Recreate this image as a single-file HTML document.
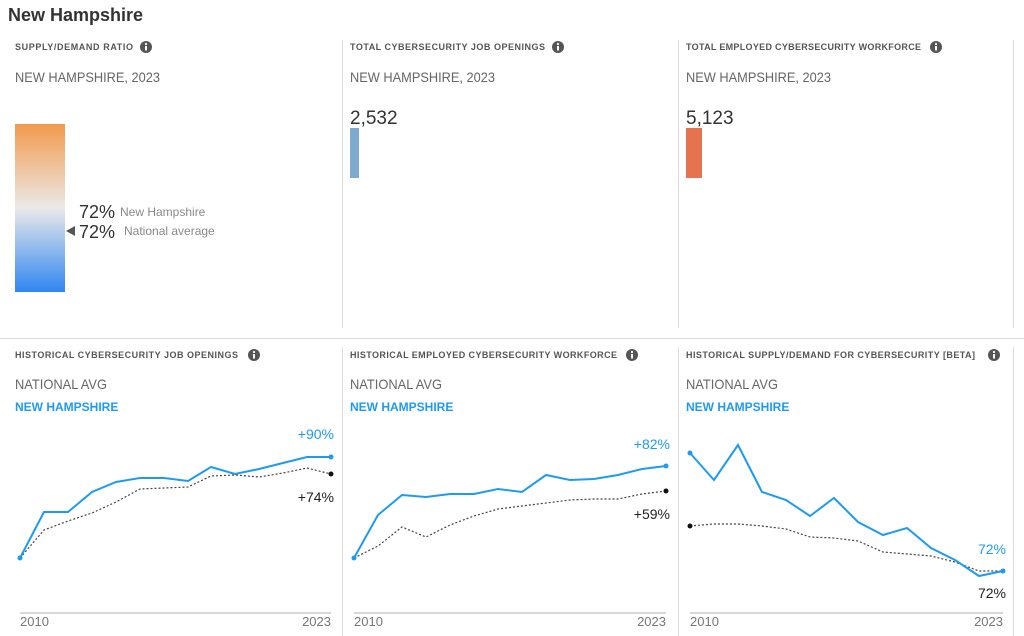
<!DOCTYPE html>
<html><head><meta charset="utf-8"><style>
html,body{margin:0;padding:0;background:#fff;width:1024px;height:636px;overflow:hidden}
svg{display:block;font-family:"Liberation Sans",sans-serif}
.h{font-size:9px;font-weight:bold;fill:#555}
.s{font-size:14px;fill:#666}
.nh{font-size:12px;font-weight:bold;fill:#1e9bf0}
.ax{font-size:13px;fill:#777}
</style></head><body>
<svg width="1024" height="636" viewBox="0 0 1024 636">
<defs>
<linearGradient id="g" x1="0" y1="0" x2="0" y2="1">
<stop offset="0" stop-color="#f29a4c"/>
<stop offset="0.5" stop-color="#ebe9e8"/>
<stop offset="1" stop-color="#2f86f0"/>
</linearGradient>
<g id="info"><circle r="6" fill="#555"/><rect x="-1" y="-1" width="2" height="4.5" fill="#fff"/><circle cy="-3" r="1.1" fill="#fff"/></g>
</defs>
<text x="8" y="21" font-size="18" font-weight="bold" fill="#333">New Hampshire</text>
<line x1="342.5" y1="40" x2="342.5" y2="328" stroke="#ddd"/>
<line x1="678.5" y1="40" x2="678.5" y2="328" stroke="#ddd"/>
<line x1="1013.5" y1="40" x2="1013.5" y2="328" stroke="#ddd"/>
<line x1="0" y1="338.5" x2="1024" y2="338.5" stroke="#ddd"/>
<line x1="342.5" y1="347" x2="342.5" y2="636" stroke="#ddd"/>
<line x1="678.5" y1="347" x2="678.5" y2="636" stroke="#ddd"/>
<line x1="1013.5" y1="347" x2="1013.5" y2="636" stroke="#ddd"/>

<text class="h" x="15" y="50" textLength="118" lengthAdjust="spacing">SUPPLY/DEMAND RATIO</text><use href="#info" x="146" y="47"/>
<text class="s" x="15" y="82" textLength="145" lengthAdjust="spacingAndGlyphs">NEW HAMPSHIRE, 2023</text>
<rect x="15" y="124" width="50" height="168" fill="url(#g)"/>
<text x="79" y="218" font-size="18" fill="#333">72%</text>
<text x="120" y="216" font-size="12" fill="#888">New Hampshire</text>
<polygon points="66,231 75,226 75,236" fill="#555"/>
<text x="79" y="238" font-size="18" fill="#333">72%</text>
<text x="124" y="235" font-size="12" fill="#888">National average</text>

<text class="h" x="350" y="50" textLength="195" lengthAdjust="spacing">TOTAL CYBERSECURITY JOB OPENINGS</text><use href="#info" x="558" y="47"/>
<text class="s" x="350" y="82" textLength="145" lengthAdjust="spacingAndGlyphs">NEW HAMPSHIRE, 2023</text>
<text x="350" y="124" font-size="19" fill="#333">2,532</text>
<rect x="350" y="128" width="9" height="50" fill="#7eaacd"/>

<text class="h" x="686" y="50" textLength="235" lengthAdjust="spacing">TOTAL EMPLOYED CYBERSECURITY WORKFORCE</text><use href="#info" x="936" y="47"/>
<text class="s" x="686" y="82" textLength="145" lengthAdjust="spacingAndGlyphs">NEW HAMPSHIRE, 2023</text>
<text x="686" y="124" font-size="19" fill="#333">5,123</text>
<rect x="686" y="128" width="16" height="50" fill="#e57350"/>

<text class="h" x="15" y="358" textLength="223" lengthAdjust="spacing">HISTORICAL CYBERSECURITY JOB OPENINGS</text><use href="#info" x="254" y="355"/>
<text class="s" x="15" y="389" textLength="92" lengthAdjust="spacingAndGlyphs">NATIONAL AVG</text><text class="nh" x="15" y="411">NEW HAMPSHIRE</text>
<text class="h" x="350" y="358" textLength="267" lengthAdjust="spacing">HISTORICAL EMPLOYED CYBERSECURITY WORKFORCE</text><use href="#info" x="632" y="355"/>
<text class="s" x="350" y="389" textLength="92" lengthAdjust="spacingAndGlyphs">NATIONAL AVG</text><text class="nh" x="350" y="411">NEW HAMPSHIRE</text>
<text class="h" x="686" y="358" textLength="289" lengthAdjust="spacing">HISTORICAL SUPPLY/DEMAND FOR CYBERSECURITY [BETA]</text><use href="#info" x="994" y="355"/>
<text class="s" x="686" y="389" textLength="92" lengthAdjust="spacingAndGlyphs">NATIONAL AVG</text><text class="nh" x="686" y="411">NEW HAMPSHIRE</text>

<line x1="20" y1="613" x2="331" y2="613" stroke="#ccc" stroke-width="1.5"/>
<text class="ax" x="20" y="626">2010</text><text class="ax" x="331" y="626" text-anchor="end">2023</text>
<polyline fill="none" stroke="#444" stroke-width="1.2" stroke-dasharray="2,2" points="20,558 44,530 68,521 92,513 116,502 140,489 164,488 188,487 211,476 235,475 259,477 283,473 307,468 331,474"/>
<polyline fill="none" stroke="#1e9bf0" stroke-width="2" points="20,558 44,512 68,512 92,492 116,482 140,478 164,478 188,481 211,467 235,474 259,469 283,463 307,457 331,457"/>
<circle cx="20" cy="558" r="2.5" fill="#1e9bf0"/><circle cx="331" cy="457" r="2.5" fill="#1e9bf0"/><circle cx="331" cy="474" r="2.5" fill="#111"/>
<text x="334" y="439" font-size="14" fill="#1e9bf0" text-anchor="end">+90%</text>
<text x="334" y="502" font-size="14" fill="#222" text-anchor="end">+74%</text>

<line x1="354" y1="613" x2="666" y2="613" stroke="#ccc" stroke-width="1.5"/>
<text class="ax" x="354" y="626">2010</text><text class="ax" x="666" y="626" text-anchor="end">2023</text>
<polyline fill="none" stroke="#444" stroke-width="1.2" stroke-dasharray="2,2" points="354,558 378,546 402,527 426,537 450,525 474,516 498,509 522,506 546,503 570,500 594,499 618,499 642,494 666,491"/>
<polyline fill="none" stroke="#1e9bf0" stroke-width="2" points="354,558 378,515 402,495 426,497 450,494 474,494 498,489 522,492 546,475 570,480 594,479 618,475 642,469 666,466"/>
<circle cx="354" cy="558" r="2.5" fill="#1e9bf0"/><circle cx="666" cy="466" r="2.5" fill="#1e9bf0"/><circle cx="666" cy="491" r="2.5" fill="#111"/>
<text x="670" y="449" font-size="14" fill="#1e9bf0" text-anchor="end">+82%</text>
<text x="670" y="519" font-size="14" fill="#222" text-anchor="end">+59%</text>

<line x1="690" y1="613" x2="1003" y2="613" stroke="#ccc" stroke-width="1.5"/>
<text class="ax" x="690" y="626">2010</text><text class="ax" x="1003" y="626" text-anchor="end">2023</text>
<polyline fill="none" stroke="#444" stroke-width="1.2" stroke-dasharray="2,2" points="690,526 714,524 738,524 762,526 786,529 810,537 834,538 858,541 883,552 907,554 931,556 955,562 979,571 1003,571"/>
<polyline fill="none" stroke="#1e9bf0" stroke-width="2" points="690,453 714,480 738,445 762,492 786,500 810,516 834,498 858,522 883,535 907,528 931,548 955,560 979,576 1003,571"/>
<circle cx="690" cy="453" r="2.5" fill="#1e9bf0"/><circle cx="690" cy="526" r="2.5" fill="#111"/><circle cx="1003" cy="571" r="2.5" fill="#1e9bf0"/>
<text x="1006" y="554" font-size="14" fill="#1e9bf0" text-anchor="end">72%</text>
<text x="1006" y="598" font-size="14" fill="#222" text-anchor="end">72%</text>
</svg>
</body></html>
